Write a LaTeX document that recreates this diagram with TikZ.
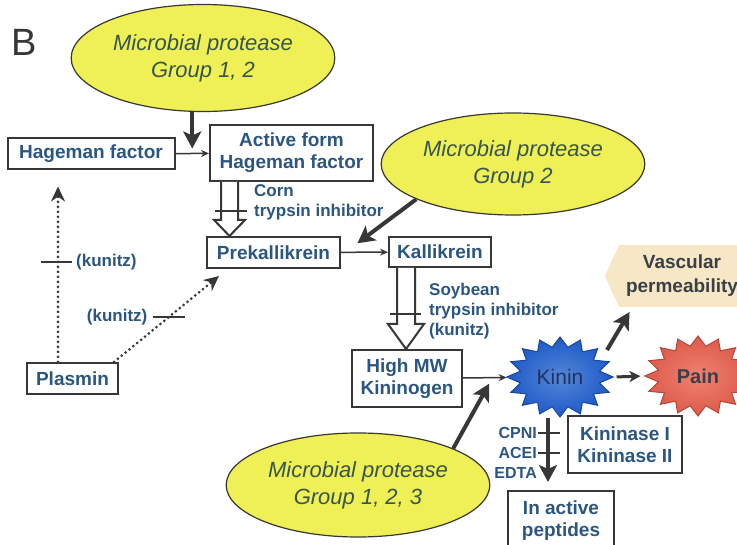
\documentclass[tikz,border=0pt]{standalone}
\usepackage{fontspec}
\setmainfont{Liberation Sans}
\usetikzlibrary{shapes.geometric,shapes.symbols,arrows.meta}
\definecolor{boxblue}{RGB}{44,86,130}
\definecolor{linegray}{RGB}{55,55,55}
\definecolor{ellyellow}{RGB}{238,240,85}
\definecolor{elltext}{RGB}{55,85,80}
\definecolor{kininblue}{RGB}{30,90,200}
\definecolor{kininlight}{RGB}{85,135,215}
\definecolor{kinindark}{RGB}{35,50,90}
\definecolor{painred}{RGB}{222,90,75}
\definecolor{painlight}{RGB}{238,130,110}
\definecolor{vascfill}{RGB}{246,232,198}
\definecolor{effecttext}{RGB}{60,62,72}

\begin{document}
\begin{tikzpicture}[x=1pt,y=-1pt,
  box/.style={draw=linegray,line width=2pt,fill=white,text=boxblue,font=\bfseries\fontsize{19}{22}\selectfont,align=center,inner sep=2pt},
  protease/.style={ellipse,draw=linegray,line width=1.2pt,fill=ellyellow,text=elltext,font=\itshape\fontsize{22}{27}\selectfont,align=center},
  inhib/.style={text=boxblue,font=\bfseries\fontsize{17}{20}\selectfont,align=left,inner sep=0pt},
  thin arrow/.style={draw=linegray,line width=1.5pt,-{Stealth[length=8pt,width=7pt]}},
  thick arrow/.style={draw=linegray,line width=4pt,-{Stealth[length=17pt,width=18pt,inset=4pt]}},
  mid arrow/.style={draw=linegray,line width=3pt,-{Stealth[length=11pt,width=11pt,inset=3pt]}},
  dot arrow/.style={draw=linegray,line width=3pt,line cap=round,dash pattern=on 0pt off 5pt,-{Stealth[length=15pt,width=14pt]}},
  bar/.style={draw=linegray,line width=2pt},
  hollow/.style={draw=linegray,line width=2pt,fill=white,line join=miter},
  burst/.style={star,star points=16,star point ratio=1.32,minimum size=80pt,inner sep=0pt,xscale=1.33,transform shape,line width=1pt}
]
\useasboundingbox (0,0) rectangle (737,545);
\fill [white] (0,0) rectangle (737,545);
% PANEL LETTER
\node [text=linegray,font=\fontsize{38}{40}\selectfont,inner sep=0pt] (panel) at (24,42) {B};
% MICROBIAL PROTEASES
\node [protease,minimum width=243pt,minimum height=107pt] (e1) at (203,58) {Microbial protease\\Group 1, 2};
\node [protease,minimum width=240pt,minimum height=102pt] (e2) at (513,164) {Microbial protease\\Group 2};
\node [protease,minimum width=240pt,minimum height=104pt] (e3) at (358,485) {Microbial protease\\Group 1, 2, 3};
% CASCADE BOXES
\node [box,minimum width=167pt,minimum height=31pt] (hag) at (91,154) {Hageman factor};
\node [box,minimum width=163pt,minimum height=56pt] (act) at (291.5,153) {Active form\\Hageman factor};
\node [box,minimum width=133pt,minimum height=31pt] (prek) at (273.5,252.5) {Prekallikrein};
\node [box,minimum width=102pt,minimum height=30pt] (kal) at (440,252) {Kallikrein};
\node [box,minimum width=91pt,minimum height=31pt] (plasmin) at (72.5,378.5) {Plasmin};
\node [box,minimum width=110pt,minimum height=57pt] (hmw) at (407,378.5) {High MW\\Kininogen};
\node [box,minimum width=114pt,minimum height=57pt] (kininase) at (625,444.5) {Kininase I\\Kininase II};
\node [box,minimum width=106pt,minimum height=60pt] (inact) at (561,521) {In active\\peptides};
% EFFECTS
\node [burst,shading=radial,inner color=kininlight,outer color=kininblue,draw=kininblue!80!black] (kinin) at (560,377) {};
\node [text=kinindark,font=\fontsize{21}{24}\selectfont] (kinintext) at (kinin) {Kinin};
\node [burst,shading=radial,inner color=painlight,outer color=painred,draw=painred!80!black] (pain) at (698,376) {};
\node [text=effecttext,font=\bfseries\fontsize{20}{24}\selectfont] (paintext) at (pain) {Pain};
\node [signal,signal to=west,signal pointer angle=130,fill=vascfill,minimum width=140pt,minimum height=62pt,text=effecttext,font=\bfseries\fontsize{19}{24}\selectfont,align=center] (vasc) at (682,276) {Vascular\\permeability};
% ACTIVATION ARROWS
\draw [thin arrow] (hag) -- (act) coordinate [pos=0.5] (m1);
\draw [thick arrow] (m1 |- e1.south) -- ([yshift=5pt]m1);
\draw [thin arrow] (prek) -- (kal) coordinate [pos=0.35] (m2);
\draw [thick arrow] (e2.200) -- ([yshift=9pt]m2);
\draw [thin arrow] (hmw) -- (kinin) coordinate [pos=0.6] (m3);
\draw [thick arrow] (e3.21) -- ([yshift=-6pt]m3);
% KININ ARROWS
\draw [thick arrow] ([shift={(47,-27)}]kinin.center) -- ([shift={(25,36)}]vasc.west);
\draw [mid arrow,shorten <=2pt,shorten >=3pt] (kinin.east) -- (pain.west);
\draw [thick arrow] ([xshift=-12pt]kinin.south) -- ([xshift=-13pt,yshift=8pt]inact.north) coordinate [pos=0.24] (c1) coordinate [pos=0.54] (c2);
\draw [bar] ([xshift=-10pt]c1) -- ([xshift=12pt]c1);
\draw [bar] ([xshift=-10pt]c2) -- ([xshift=12pt]c2);
\node [inhib,align=right,anchor=east,font=\bfseries\fontsize{16}{20}\selectfont] (blockers) at ([xshift=-11pt]c2) {CPNI\\ACEI\\EDTA};
% PLASMIN PATHS
\draw [dot arrow] ([xshift=-14.5pt]plasmin.north) -- ([xshift=-14.5pt,yshift=-16pt]plasmin.north |- hag.south) coordinate [pos=0.57] (k1);
\draw [bar] ([xshift=-17pt]k1) -- ([xshift=14pt]k1);
\node [inhib,anchor=west] (kun1) at ([xshift=18pt]k1) {(kunitz)};
\draw [dot arrow] ([xshift=-5pt]plasmin.north east) -- ([xshift=13pt,yshift=-7pt]prek.south west) coordinate [pos=0.52] (k2);
\draw [bar] ([xshift=-16pt]k2) -- ([xshift=16pt]k2);
\node [inhib,anchor=east] (kun2) at ([xshift=-21pt]k2) {(kunitz)};
% INHIBITED CONVERSIONS
\draw [hollow] ([xshift=-70.5pt]act.south) -- ++(0,38) -- ++(-7,0) -- ++(15.5,16) -- ++(15.5,-16) -- ++(-7,0) -- ++(0,-38);
\draw [bar] ([xshift=-76.5pt,yshift=-29pt]act.south) -- ++(32,0);
\node [inhib,anchor=west] (corn) at ([xshift=-37.5pt,yshift=-20pt]act.south) {Corn\\trypsin inhibitor};
\draw [hollow] ([xshift=-43pt]kal.south) -- ++(0,56) -- ++(-9,0) -- ++(18,25) -- ++(18,-25) -- ++(-9,0) -- ++(0,-56);
\draw [bar] ([xshift=-50pt,yshift=-46pt]kal.south) -- ++(31,0);
\node [inhib,anchor=west] (soy) at ([xshift=-11pt,yshift=-43pt]kal.south) {Soybean\\trypsin inhibitor\\(kunitz)};
\end{tikzpicture}
\end{document}
